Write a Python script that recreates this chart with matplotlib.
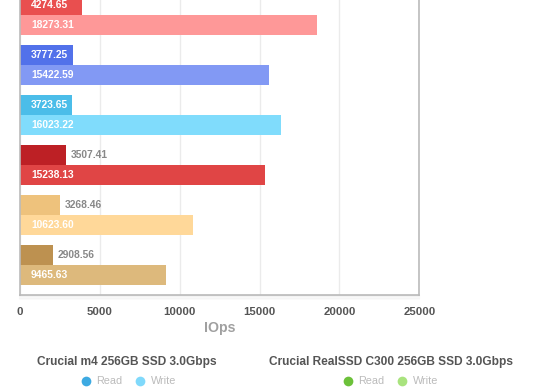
import matplotlib
matplotlib.use("Agg")
import matplotlib.pyplot as plt
from matplotlib.lines import Line2D

plt.rcParams['font.family'] = ['Liberation Sans', 'DejaVu Sans']

# bar lengths (IOps)
read_vals = [3900, 3340, 3275, 2855, 2480, 2045]
write_vals = [18600, 15600, 16350, 15350, 10840, 9170]
# value labels as printed on the bars
read_labels = ["4274.65", "3777.25", "3723.65", "3507.41", "3268.46", "2908.56"]
write_labels = ["18273.31", "15422.59", "16023.22", "15238.13", "10623.60", "9465.63"]
read_colors = ["#E94F4F", "#5271EA", "#4BBDE9", "#BD2025", "#EEC27C", "#BD9150"]
write_colors = ["#FE9898", "#8299F4", "#80DCFC", "#E04545", "#FFD899", "#DDB97C"]

x_ticks = [0, 5000, 10000, 15000, 20000, 25000]
x_label = "IOps"

legend_groups = [
    ("Crucial m4 256GB SSD 3.0Gbps", [("Read", "#3DAAE2"), ("Write", "#80D9FB")]),
    ("Crucial RealSSD C300 256GB SSD 3.0Gbps", [("Read", "#6CC13A"), ("Write", "#A9E37E")]),
]

W, H = 560, 390
fig = plt.figure(figsize=(W / 100, H / 100), dpi=100)
left_px, right_px = 20.0, 419.3
bottom_px, top_px = 294.5, -14.5
ax = fig.add_axes([left_px / W, (H - bottom_px) / H,
                   (right_px - left_px) / W, (bottom_px - top_px) / H])

# faint shadow under the plot frame
for k, a in enumerate([0.10, 0.06, 0.03]):
    fig.add_artist(Line2D([left_px / W, right_px / W], [1 - (bottom_px + 1.5 + k * 1.5) / H] * 2,
                          color='#999999', alpha=a, linewidth=1.5, transform=fig.transFigure))

n = len(read_vals)
ys = list(range(n))
bh = 0.4
ax.barh([y - bh / 2 for y in ys], read_vals, height=bh, color=read_colors, zorder=2)
ax.barh([y + bh / 2 for y in ys], write_vals, height=bh, color=write_colors, zorder=2)

fs = 7.4
for i in ys:
    if read_vals[i] >= 3000:
        ax.annotate(read_labels[i], (0, i - bh / 2), xytext=(8, 0), textcoords='offset points',
                    ha='left', va='center', color='white', fontsize=fs, fontweight='bold', zorder=3)
    else:
        ax.annotate(read_labels[i], (read_vals[i], i - bh / 2), xytext=(3.6, 0), textcoords='offset points',
                    ha='left', va='center', color='#888888', fontsize=fs, fontweight='bold', zorder=3)
    ax.annotate(write_labels[i], (0, i + bh / 2), xytext=(8, 0), textcoords='offset points',
                ha='left', va='center', color='white', fontsize=fs, fontweight='bold', zorder=3)

ax.set_xlim(0, 25000)
ax.set_ylim(5 + 0.59, -0.59)
ax.set_xticks(x_ticks)
ax.set_xticklabels([str(t) for t in x_ticks], fontsize=8.2, fontweight='bold', color='#555555')
ax.set_yticks([])
ax.tick_params(axis='x', length=0, pad=9)
ax.grid(axis='x', color='#EBEBEB', linewidth=1, zorder=0)
ax.set_axisbelow(True)
for s in ['left', 'bottom', 'right']:
    ax.spines[s].set_color('#BBBBBB')
    ax.spines[s].set_linewidth(1.2)
ax.spines['top'].set_visible(False)

fig.text((left_px + right_px) / 2 / W, 1 - 328 / H, x_label, ha='center', va='center',
         fontsize=10.2, color='#A0A0A0', fontweight='bold')

# legend
title_cx = [127, 391]
item_x = [[85.7, 140], [347.7, 402.3]]
for g, (title, items) in enumerate(legend_groups):
    fig.text(title_cx[g] / W, 1 - 361.5 / H, title, ha='center', va='center',
             fontsize=8.6, fontweight='bold', color='#555555')
    for k, (lab, col) in enumerate(items):
        cx = item_x[g][k]
        fig.add_artist(Line2D([cx / W], [1 - 381 / H], marker='o', markersize=7,
                              color=col, markeredgewidth=0, transform=fig.transFigure))
        fig.text((cx + 10.5) / W, 1 - 381 / H, lab, ha='left', va='center',
                 fontsize=7.8, color='#BBBBBB')

fig.savefig("out.png", dpi=100)
